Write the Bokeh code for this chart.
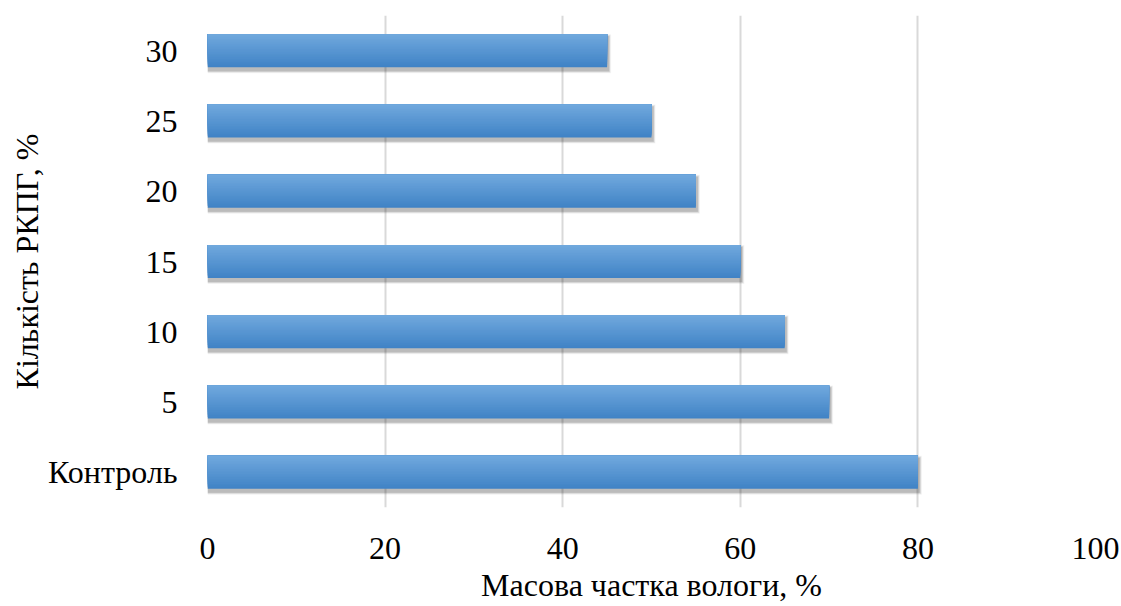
from bokeh.plotting import figure
from bokeh.models import Range1d, FixedTicker
from bokeh.embed import file_html
from bokeh.resources import INLINE

# Data
categories = ["Контроль", "5", "10", "15", "20", "25", "30"]
moisture = [80, 70, 65, 60, 55, 50, 45]
x_ticks = [0, 20, 40, 60, 80, 100]

FONT = "Liberation Serif"
FS = "32px"
W, H = 1121, 606
LEFT, RIGHT, TOP, BOTTOM = 207, 26, 15, 99

p = figure(width=W, height=H, output_backend="svg", toolbar_location=None,
           x_range=Range1d(0, 100), y_range=Range1d(-0.5, len(categories) - 0.5),
           min_border_left=LEFT, min_border_right=RIGHT,
           min_border_top=TOP, min_border_bottom=BOTTOM)
p.outline_line_color = None
p.background_fill_color = "white"
p.border_fill_color = "white"

# pixel sizes in data units
px_x = 100 / (W - LEFT - RIGHT)
px_y = len(categories) / (H - TOP - BOTTOM)

ys = list(range(len(categories)))
bar_h = 0.47

# soft drop shadow under the bars
for k, a in [(6, 0.04), (5, 0.05), (4, 0.07), (3, 0.09), (2, 0.12)]:
    p.hbar(y=[y - 3 * px_y for y in ys], left=0,
           right=[v + (1 + k * 0.5) * px_x for v in moisture],
           height=bar_h + k * px_y, fill_color="#303030", fill_alpha=a, line_color=None)

# vertical gradient fill: overlapping bands anchored at the top edge,
# darkest (full height) first, lightest (thin top band) last
top_c = (0x70, 0xA8, 0xDD)
bot_c = (0x40, 0x83, 0xC6)
n = 20
for i in reversed(range(n)):
    t = i / (n - 1)
    c = tuple(round(top_c[j] + (bot_c[j] - top_c[j]) * t) for j in range(3))
    col = "#%02x%02x%02x" % c
    h = bar_h * (i + 1) / n
    p.hbar(y=[y + bar_h / 2 - h / 2 for y in ys], left=0, right=moisture, height=h,
           fill_color=col, line_color=None)

# grid
p.xgrid.ticker = FixedTicker(ticks=x_ticks)
p.xgrid.grid_line_color = "#d9d9d9"
p.xgrid.grid_line_width = 2
p.ygrid.grid_line_color = None
p.xgrid.level = "underlay"

# axes
xa = p.xaxis[0]
xa.ticker = FixedTicker(ticks=x_ticks)
xa.axis_line_color = None
xa.major_tick_line_color = None
xa.minor_tick_line_color = None
xa.major_label_text_font = FONT
xa.major_label_text_font_size = FS
xa.major_label_text_color = "black"
xa.major_label_standoff = 24
xa.axis_label = "Масова частка вологи, %"
xa.axis_label_text_font = FONT
xa.axis_label_text_font_size = FS
xa.axis_label_text_font_style = "normal"
xa.axis_label_text_color = "black"
xa.axis_label_standoff = 5

ya = p.yaxis[0]
ya.ticker = FixedTicker(ticks=ys)
ya.major_label_overrides = {i: c for i, c in enumerate(categories)}
ya.axis_line_color = None
ya.major_tick_line_color = None
ya.minor_tick_line_color = None
ya.major_label_text_font = FONT
ya.major_label_text_font_size = FS
ya.major_label_text_color = "black"
ya.major_label_standoff = 24
ya.axis_label = "Кількість РКПГ, %"
ya.axis_label_text_font = FONT
ya.axis_label_text_font_size = FS
ya.axis_label_text_font_style = "normal"
ya.axis_label_text_color = "black"
ya.axis_label_standoff = 0

open("out.html", "w").write(file_html(p, INLINE))
